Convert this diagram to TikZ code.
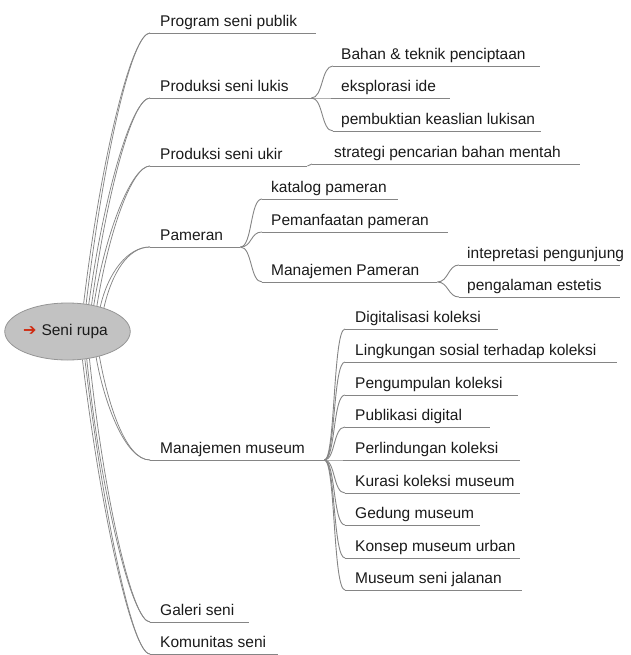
\documentclass[tikz,border=0pt]{standalone}
\usepackage{fontspec}
\setmainfont{Liberation Sans}
\newfontfamily\symfont{DejaVu Sans}
\usetikzlibrary{shapes.geometric}
\definecolor{lncol}{HTML}{858585}
\definecolor{txtcol}{HTML}{1A1A1A}
\definecolor{rootfill}{HTML}{C2C2C2}
\definecolor{rootdraw}{HTML}{959595}
\definecolor{arrred}{HTML}{D02A10}
\newcommand\lbx[3]{\makebox[#1pt][l]{\hspace*{#2pt}#3}}
\begin{document}
\begin{tikzpicture}[x=1pt,y=-1pt,
  ln/.style={draw=lncol, line width=0.9pt},
  mainln/.style={draw=lncol, line width=0.75pt},
  lab/.style={anchor=south west, inner sep=0pt, text depth=6pt, text=txtcol,
    font=\fontsize{15.5}{18}\selectfont}]
\useasboundingbox (0,0) rectangle (630,655);

% root
\node[ellipse, fill=rootfill, draw=rootdraw, line width=0.8pt,
  minimum width=120pt, minimum height=57pt, inner sep=0pt, text=txtcol,
  font=\fontsize{15.5}{18}\selectfont] (root) at (67.5,331.5)
  {\textcolor{arrred}{\symfont\bfseries\fontsize{16}{16}\selectfont ➔}\hspace{5pt}Seni rupa\hspace*{4pt}};

% main branches
\node[lab] (prog)  at (150,33)  {\lbx{166}{10}{Program seni publik}};
\node[lab] (lukis) at (150,98)  {\lbx{161}{10}{Produksi seni lukis}};
\node[lab] (ukir)  at (150,166) {\lbx{157}{10}{Produksi seni ukir}};
\node[lab] (pam)   at (150,247) {\lbx{90}{10}{Pameran}};
\node[lab] (mus)   at (150,460) {\lbx{174}{10}{Manajemen museum}};
\node[lab] (gal)   at (150,622) {\lbx{99}{10}{Galeri seni}};
\node[lab] (kom)   at (150,654) {\lbx{128}{10}{Komunitas seni}};

% lukis children
\node[lab] (bahan) at (333,66)  {\lbx{207}{8}{Bahan \& teknik penciptaan}};
\node[lab] (eksp)  at (333,98)  {\lbx{117}{8}{eksplorasi ide}};
\node[lab] (pemb)  at (333,131) {\lbx{208}{8}{pembuktian keaslian lukisan}};
% ukir child
\node[lab] (strat) at (312,164) {\lbx{268}{22}{strategi pencarian bahan mentah}};
% pameran children
\node[lab] (kat)   at (262,199) {\lbx{136}{9}{katalog pameran}};
\node[lab] (pemf)  at (262,232) {\lbx{186}{9}{Pemanfaatan pameran}};
\node[lab] (manp)  at (262,282) {\lbx{175}{9}{Manajemen Pameran}};
\node[lab] (intp)  at (459,265) {\lbx{161}{8}{intepretasi pengunjung}};
\node[lab] (peng)  at (459,297) {\lbx{161}{8}{pengalaman estetis}};
% museum children
\node[lab] (dig)   at (345,329) {\lbx{153}{10}{Digitalisasi koleksi}};
\node[lab] (ling)  at (345,362) {\lbx{272}{10}{Lingkungan sosial terhadap koleksi}};
\node[lab] (pgk)   at (345,395) {\lbx{173}{10}{Pengumpulan koleksi}};
\node[lab] (pub)   at (345,427) {\lbx{145}{10}{Publikasi digital}};
\node[lab] (perl)  at (345,460) {\lbx{175}{10}{Perlindungan koleksi}};
\node[lab] (kur)   at (345,493) {\lbx{175}{10}{Kurasi koleksi museum}};
\node[lab] (ged)   at (345,525) {\lbx{135}{10}{Gedung museum}};
\node[lab] (kons)  at (345,558) {\lbx{175}{10}{Konsep museum urban}};
\node[lab] (jal)   at (345,590) {\lbx{177}{10}{Museum seni jalanan}};

% underlines
\foreach \n in {prog,lukis,ukir,pam,mus,gal,kom,bahan,eksp,pemb,strat,kat,pemf,manp,intp,peng,dig,ling,pgk,pub,perl,kur,ged,kons,jal}
  \draw[ln] (\n.south west) -- (\n.south east);

% root connectors (double, converging)
\draw[mainln] (root.60) .. controls +(18,-150) and +(-18,0) .. (prog.south west);
\draw[mainln] (root.56) .. controls +(18,-150) and +(-18,0) .. (prog.south west);
\draw[mainln] (root.52) .. controls +(15,-110) and +(-18,0) .. (lukis.south west);
\draw[mainln] (root.48) .. controls +(15,-110) and +(-18,0) .. (lukis.south west);
\draw[mainln] (root.45) .. controls +(12,-75) and +(-18,0) .. (ukir.south west);
\draw[mainln] (root.41) .. controls +(12,-75) and +(-18,0) .. (ukir.south west);
\draw[mainln] (root.37) .. controls +(8,-35) and +(-22,0) .. (pam.south west);
\draw[mainln] (root.33) .. controls +(8,-35) and +(-22,0) .. (pam.south west);
\draw[mainln] (root.-38) .. controls +(8,45) and +(-25,0) .. (mus.south west);
\draw[mainln] (root.-42) .. controls +(8,45) and +(-25,0) .. (mus.south west);
\draw[mainln] (root.-51) .. controls +(14,135) and +(-18,0) .. (gal.south west);
\draw[mainln] (root.-55) .. controls +(14,135) and +(-18,0) .. (gal.south west);
\draw[mainln] (root.-58) .. controls +(18,150) and +(-18,0) .. (kom.south west);
\draw[mainln] (root.-62) .. controls +(18,150) and +(-18,0) .. (kom.south west);

% sub connectors
\foreach \c in {bahan,eksp,pemb}
  \draw[ln] (lukis.south east) .. controls +(12,0) and +(-12,0) .. (\c.south west);
\draw[ln] (ukir.south east) .. controls +(3,0) and +(-3,0) .. (strat.south west);
\foreach \c in {kat,pemf,manp}
  \draw[ln] (pam.south east) .. controls +(12,0) and +(-12,0) .. (\c.south west);
\foreach \c in {intp,peng}
  \draw[ln] (manp.south east) .. controls +(11,0) and +(-11,0) .. (\c.south west);
\foreach \c in {dig,ling,pgk,pub,perl,kur,ged,kons,jal}
  \draw[ln] (mus.south east) .. controls +(11,0) and +(-12,0) .. (\c.south west);
\end{tikzpicture}
\end{document}
